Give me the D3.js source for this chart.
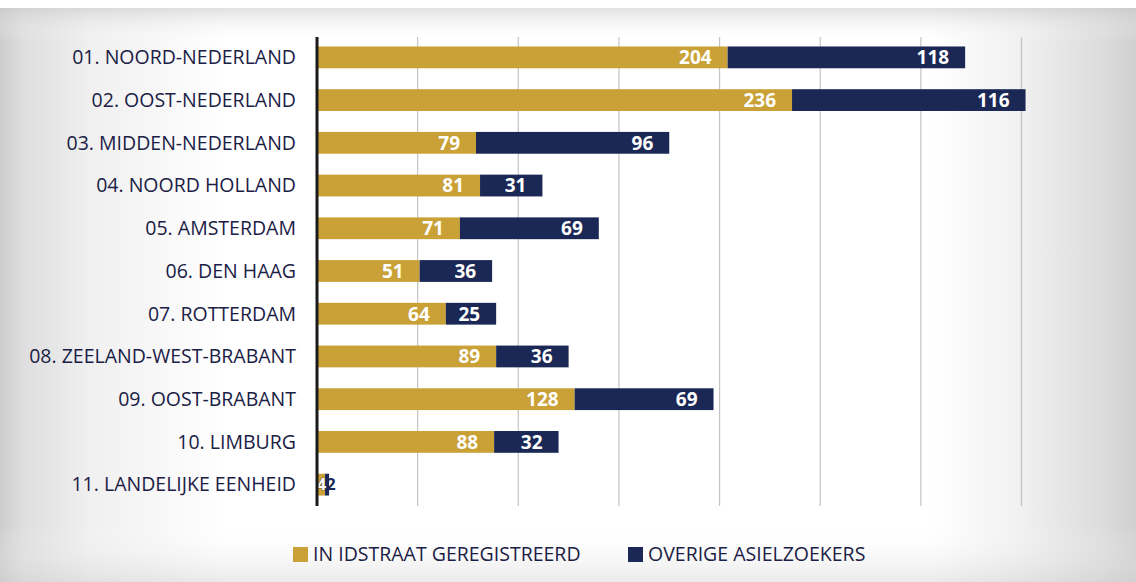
<!DOCTYPE html>
<html>
<head>
<meta charset="utf-8">
<script src="https://cdn.jsdelivr.net/npm/d3@7/dist/d3.min.js"></script>
<style>
  html, body { margin: 0; padding: 0; background: #ffffff; }
  svg { display: block; }
</style>
</head>
<body>
<svg id="chart" width="1136" height="582"></svg>
<script>
// Regional units (eenheden)
const categories = [
  "01. NOORD-NEDERLAND",
  "02. OOST-NEDERLAND",
  "03. MIDDEN-NEDERLAND",
  "04. NOORD HOLLAND",
  "05. AMSTERDAM",
  "06. DEN HAAG",
  "07. ROTTERDAM",
  "08. ZEELAND-WEST-BRABANT",
  "09. OOST-BRABANT",
  "10. LIMBURG",
  "11. LANDELIJKE EENHEID"
];
// Registered in IDstraat
const registered = [204, 236, 79, 81, 71, 51, 64, 89, 128, 88, 4];
// Other asylum seekers
const other = [118, 116, 96, 31, 69, 36, 25, 36, 69, 32, 2];
const seriesNames = ["IN IDSTRAAT GEREGISTREERD", "OVERIGE ASIELZOEKERS"];
const gridTicks = [50, 100, 150, 200, 250, 300, 350];

const W = 1136, H = 582;
const gold = "#c9a137", navy = "#1b2856", textNavy = "#1a2045";
const svg = d3.select("#chart");
const defs = svg.append("defs");

// Paper-like backdrop: white centre, greyish edges
const hg = defs.append("linearGradient").attr("id", "bgH").attr("x1", 0).attr("x2", 1).attr("y1", 0).attr("y2", 0);
[[0, "#cdcdcd"], [0.02, "#dedede"], [0.08, "#f0f0f0"], [0.2, "#ffffff"], [0.82, "#ffffff"], [0.9, "#f0f0f0"], [0.97, "#dcdcdc"], [1, "#d0d0d0"]]
  .forEach(([o, c]) => hg.append("stop").attr("offset", o).attr("stop-color", c));
const vg = defs.append("linearGradient").attr("id", "bgV").attr("x1", 0).attr("x2", 0).attr("y1", 0).attr("y2", 1);
[[0, "#c8c8c8", 0.55], [0.06, "#ffffff", 0], [0.9, "#ffffff", 0], [1, "#d0d0d0", 0.45]]
  .forEach(([o, c, a]) => vg.append("stop").attr("offset", o).attr("stop-color", c).attr("stop-opacity", a));

svg.append("rect").attr("x", 0).attr("y", 0).attr("width", W).attr("height", H).attr("fill", "#ffffff");
svg.append("rect").attr("x", 0).attr("y", 8).attr("width", W).attr("height", H - 8).attr("fill", "url(#bgH)");
svg.append("rect").attr("x", 0).attr("y", 8).attr("width", W).attr("height", H - 8).attr("fill", "url(#bgV)");

// Scales
const x = d3.scaleLinear().domain([0, 350]).range([317, 1021.5]);
const y = d3.scaleBand().domain(categories).range([36, 506]).paddingInner(0.49).paddingOuter(0.245);

// Vertical gridlines
svg.append("g").selectAll("line").data(gridTicks).join("line")
  .attr("x1", d => x(d)).attr("x2", d => x(d))
  .attr("y1", 37).attr("y2", 506)
  .attr("stroke", "#c4c4c4").attr("stroke-width", 1.2);

// Category labels
svg.append("g").selectAll("text").data(categories).join("text")
  .attr("x", 296)
  .attr("y", d => y(d) + y.bandwidth() / 2)
  .attr("dy", "0.35em")
  .attr("text-anchor", "end")
  .attr("font-family", "'Open Sans', sans-serif")
  .attr("font-size", 19.5)
  .attr("fill", textNavy)
  .text(d => d);

// Stacked bars
const rows = categories.map((c, i) => ({ cat: c, a: registered[i], b: other[i] }));
const segs = [];
rows.forEach(r => {
  segs.push({ cat: r.cat, x0: 0, x1: r.a, v: r.a, color: gold, first: true });
  segs.push({ cat: r.cat, x0: r.a, x1: r.a + r.b, v: r.b, color: navy, first: false });
});

svg.append("g").selectAll("rect").data(segs).join("rect")
  .attr("x", d => x(d.x0))
  .attr("y", d => y(d.cat))
  .attr("width", d => x(d.x1) - x(d.x0))
  .attr("height", y.bandwidth())
  .attr("fill", d => d.color);

// Value labels, placed inside the end of each segment;
// segments too narrow for their label get a smaller label beside the segment joint
const pad = 16;
svg.append("g").selectAll("text").data(segs).join("text")
  .attr("font-family", "'Open Sans', sans-serif")
  .attr("font-weight", "bold")
  .attr("font-size", 19)
  .attr("fill", "#ffffff")
  .attr("y", d => y(d.cat) + y.bandwidth() / 2)
  .attr("dy", "0.36em")
  .text(d => d.v)
  .each(function (d) {
    const t = d3.select(this);
    const w = this.getComputedTextLength();
    const segW = x(d.x1) - x(d.x0);
    if (segW < w + pad + 4) {
      t.attr("font-size", 16)
        .attr("fill", d.first ? "#ffffff" : navy)
        .attr("stroke", d.first ? "#2a2a2a" : "none")
        .attr("stroke-width", 0.7)
        .attr("paint-order", "stroke")
        .attr("text-anchor", d.first ? "end" : "start")
        .attr("x", d.first ? x(d.x1) + 1 : x(d.x0) + 1.5);
    } else {
      t.attr("text-anchor", "end").attr("x", x(d.x1) - pad);
    }
  });

// Category axis line
svg.append("line")
  .attr("x1", 317).attr("x2", 317)
  .attr("y1", 37).attr("y2", 506)
  .attr("stroke", "#1a1a1a").attr("stroke-width", 3);

// Legend
const legend = svg.append("g");
const legendItems = [
  { name: seriesNames[0], color: gold, x: 293 },
  { name: seriesNames[1], color: navy, x: 628 }
];
legendItems.forEach(it => {
  legend.append("rect").attr("x", it.x).attr("y", 547).attr("width", 15).attr("height", 15).attr("fill", it.color);
  legend.append("text")
    .attr("x", it.x + 20).attr("y", 554.5).attr("dy", "0.35em")
    .attr("font-family", "'Open Sans', sans-serif")
    .attr("font-size", 19.5)
    .attr("fill", textNavy)
    .text(it.name);
});
</script>
</body>
</html>
